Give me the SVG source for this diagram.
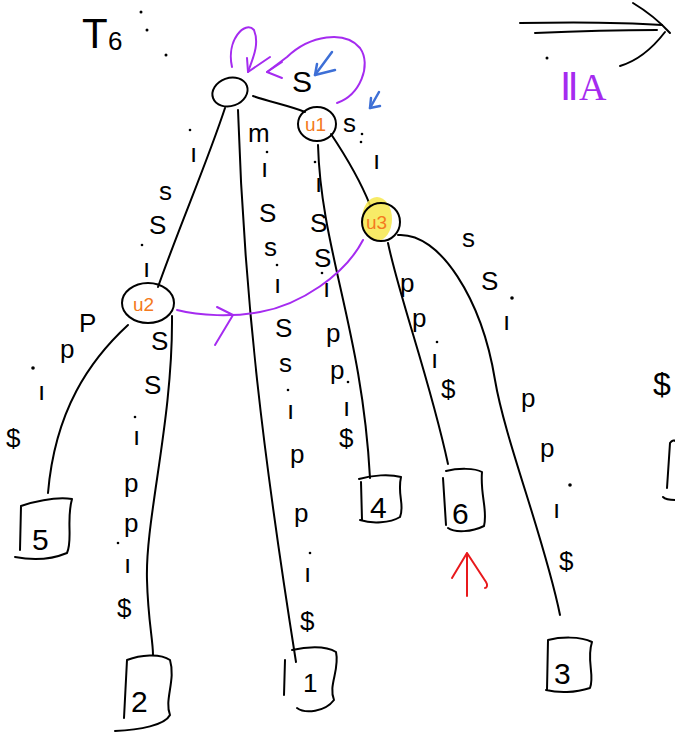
<svg xmlns="http://www.w3.org/2000/svg" width="675" height="736" viewBox="0 0 675 736">
<style>
.ln{fill:none;stroke:#000;stroke-width:2;stroke-linecap:round;stroke-linejoin:round}
.pu{fill:none;stroke:#a52bf0;stroke-width:2;stroke-linecap:round;stroke-linejoin:round}
.bl{fill:none;stroke:#3d6fd6;stroke-width:2.5;stroke-linecap:round;stroke-linejoin:round}
.rd{fill:none;stroke:#e8191c;stroke-width:2;stroke-linecap:round;stroke-linejoin:round}
.node{fill:none;stroke:#000;stroke-width:2}
.t{font-family:"Liberation Sans","DejaVu Sans",sans-serif;font-size:26px;fill:#000}
.tl{font-family:"Liberation Sans","DejaVu Sans",sans-serif;font-size:30px;fill:#000}
.u{font-family:"Liberation Sans","DejaVu Sans",sans-serif;font-size:19px;fill:#f47a20}
.dot{fill:#000}
</style>

<!-- title -->
<g id="title">
<text class="t" x="82" y="48" style="font-size:42px">T</text>
<text class="t" x="108" y="50" style="font-size:26px">6</text>
<circle class="dot" cx="141" cy="12" r="1.5"/>
<circle class="dot" cx="147" cy="30" r="1.5"/>
<circle class="dot" cx="166" cy="55" r="1.5"/>
</g>

<!-- connectors -->
<g id="connectors">
<path class="ln" d="M253,96 C270,102 290,106 305,112"/>
<path class="ln" d="M225,108 C208,160 178,230 158,287"/>
<path class="ln" d="M238,110 C244,300 264,460 296,662"/>
<path class="ln" d="M318,145 C321,250 362,330 370,478"/>
<path class="ln" d="M331,134 C345,155 360,180 370,205"/>
<path class="ln" d="M388,243 C400,300 430,380 448,464"/>
<path class="ln" d="M398,235 C440,232 482,300 495,380 C505,440 545,540 560,615"/>
<path class="ln" d="M128,325 C90,360 55,410 48,493"/>
<path class="ln" d="M172,316 C173,420 145,520 147,580 C148,620 153,640 153,655"/>
</g>

<!-- edge labels -->
<g id="edge-labels">
<!-- root -> u1 -->
<text class="tl" x="292" y="92">S</text>
<!-- root -> u2 : issi -->
<circle class="dot" cx="190" cy="130" r="1.3"/>
<text class="t" x="190" y="162">ı</text>
<text class="t" x="159" y="200">s</text>
<text class="t" x="149" y="234">S</text>
<circle class="dot" cx="142" cy="245" r="1.3"/>
<text class="t" x="143" y="277">ı</text>
<!-- root -> leaf1 -->
<text class="t" x="248" y="142">m</text>
<circle class="dot" cx="267" cy="152" r="1.3"/>
<text class="t" x="261" y="177">ı</text>
<text class="t" x="259" y="222">S</text>
<text class="t" x="264" y="256">s</text>
<circle class="dot" cx="277" cy="265" r="1.3"/>
<text class="t" x="274" y="293">ı</text>
<text class="t" x="275" y="337">S</text>
<text class="t" x="279" y="372">s</text>
<circle class="dot" cx="288" cy="390" r="1.3"/>
<text class="t" x="287" y="419">ı</text>
<text class="t" x="290" y="463">p</text>
<text class="t" x="294" y="522">p</text>
<circle class="dot" cx="310" cy="553" r="1.3"/>
<text class="t" x="304" y="582">ı</text>
<text class="t" x="300" y="630">$</text>
<!-- u1 -> leaf4 -->
<circle class="dot" cx="315" cy="162" r="1.3"/>
<text class="t" x="315" y="192">ı</text>
<text class="t" x="310" y="232">S</text>
<text class="t" x="314" y="267">S</text>
<circle class="dot" cx="322" cy="273" r="1.3"/>
<text class="t" x="323" y="297">ı</text>
<text class="t" x="326" y="342">p</text>
<text class="t" x="330" y="379">p</text>
<circle class="dot" cx="348" cy="382" r="1.3"/>
<text class="t" x="343" y="416">ı</text>
<text class="t" x="339" y="447">$</text>
<!-- u1 -> u3 -->
<text class="t" x="343" y="132">s</text>
<circle class="dot" cx="362" cy="134" r="1.3"/>
<circle class="dot" cx="361" cy="142" r="1.3"/>
<text class="t" x="373" y="169">ı</text>
<!-- u3 -> leaf6 -->
<text class="t" x="400" y="292">p</text>
<text class="t" x="412" y="327">p</text>
<circle class="dot" cx="437" cy="342" r="1.3"/>
<text class="t" x="431" y="368">ı</text>
<text class="t" x="441" y="398">$</text>
<!-- u3 -> leaf3 -->
<text class="t" x="462" y="247">s</text>
<text class="t" x="481" y="290">S</text>
<circle class="dot" cx="512" cy="298" r="1.8"/>
<text class="t" x="503" y="330">ı</text>
<text class="t" x="521" y="407">p</text>
<text class="t" x="540" y="457">p</text>
<circle class="dot" cx="570" cy="485" r="1.8"/>
<text class="t" x="553" y="518">ı</text>
<text class="t" x="559" y="570">$</text>
<!-- u2 -> leaf5 -->
<text class="t" x="79" y="332">P</text>
<text class="t" x="60" y="358">p</text>
<circle class="dot" cx="33" cy="368" r="1.8"/>
<text class="t" x="38" y="400">ı</text>
<text class="t" x="6" y="447">$</text>
<!-- u2 -> leaf2 -->
<text class="t" x="151" y="350">S</text>
<text class="t" x="144" y="394">S</text>
<circle class="dot" cx="135" cy="417" r="1.3"/>
<text class="t" x="133" y="445">ı</text>
<text class="t" x="124" y="492">p</text>
<text class="t" x="124" y="532">p</text>
<circle class="dot" cx="118" cy="543" r="1.3"/>
<text class="t" x="124" y="573">ı</text>
<text class="t" x="117" y="617">$</text>
</g>

<!-- internal nodes -->
<g id="root">
<ellipse class="node" cx="230" cy="92" rx="18" ry="14" transform="rotate(-20 230 92)"/>
</g>
<g id="u1">
<ellipse class="node" cx="317" cy="124" rx="19" ry="17"/>
<text class="u" x="305" y="131">u1</text>
</g>
<g id="u2">
<ellipse class="node" cx="148" cy="303" rx="26" ry="20"/>
<text class="u" x="133" y="311">u2</text>
</g>
<g id="u3">
<ellipse cx="377" cy="219" rx="15" ry="22" fill="#f6e84c" opacity="0.85"/>
<ellipse class="node" cx="381" cy="222" rx="19" ry="19"/>
<text class="u" x="366" y="229">u3</text>
</g>

<!-- leaves -->
<g id="leaf5">
<path class="ln" d="M21,506 C40,500 58,497 72,499 C66,520 73,540 67,553 C50,560 30,560 15,557 M21,506 L20,550"/>
<text class="tl" x="32" y="550">5</text>
</g>
<g id="leaf2">
<path class="ln" d="M127,660 C140,655 160,653 170,660 C176,680 164,700 170,715 C165,725 140,730 115,731 M127,660 L124,718"/>
<text class="tl" x="131" y="712">2</text>
</g>
<g id="leaf1">
<path class="ln" d="M292,650 C305,647 325,645 336,652 C340,670 328,685 334,700 C325,712 305,714 297,708 M285,660 L284,695"/>
<text class="t" x="303" y="692">1</text>
</g>
<g id="leaf4">
<path class="ln" d="M359,479 C372,475 390,474 401,477 C397,495 405,505 400,517 C390,523 372,524 360,520 M361,482 L362,520"/>
<text class="tl" x="370" y="518">4</text>
</g>
<g id="leaf6">
<path class="ln" d="M446,471 C458,468 475,468 482,472 C480,495 488,510 484,526 C472,532 455,533 448,528 M443,478 L446,525"/>
<text class="tl" x="452" y="524">6</text>
</g>
<g id="leaf3">
<path class="ln" d="M548,640 C560,637 580,636 592,642 C586,660 595,675 590,688 C575,693 558,693 546,690 M548,640 L547,690"/>
<text class="tl" x="554" y="684">3</text>
</g>

<!-- annotations -->
<g id="purple-arrows">
<path class="pu" d="M232,67 C226,40 245,20 254,30 C260,45 252,60 248,72"/>
<path class="pu" d="M247,58 L248,72 L270,57"/>
<path class="pu" d="M337,103 C360,95 372,65 360,48 C345,30 310,35 287,57 L267,72"/>
<path class="pu" d="M282,62 L267,72 L282,78"/>
<path class="pu" d="M177,310 C200,316 233,317 260,312 C300,305 345,275 363,240"/>
<path class="pu" d="M217,307 L233,315 L215,345"/>
</g>
<g id="blue-arrows">
<path class="bl" d="M332,52 L315,75"/>
<path class="bl" d="M317,64 L315,75 L335,70"/>
<path class="bl" d="M379,92 L370,108"/>
<path class="bl" d="M371,98 L370,108 L380,106"/>
</g>
<g id="red-arrow">
<path class="rd" d="M467,596 L467,553 M452,578 L467,553 L486,582 C488,585 487,588 485,588"/>
</g>
<g id="top-right">
<path class="ln" d="M520,23 C570,22 620,22 662,25"/>
<path class="ln" d="M535,33 C580,31 625,30 657,30"/>
<path class="ln" d="M633,3 C648,12 660,22 670,33"/>
<path class="ln" d="M620,66 C640,60 655,45 665,32"/>
<circle class="dot" cx="547" cy="58" r="1.5"/>
<text x="560" y="100" style="font-family:'Liberation Serif',serif;font-size:38px;fill:#a52bf0">ⅡA</text>
</g>
<g id="right-edge">
<text class="t" x="653" y="395" style="font-size:32px">$</text>
<path class="ln" d="M670,443 L667,488 M663,497 C666,500 670,500 675,500 M670,443 C672,440 675,440 675,441"/>
</g>
</svg>
